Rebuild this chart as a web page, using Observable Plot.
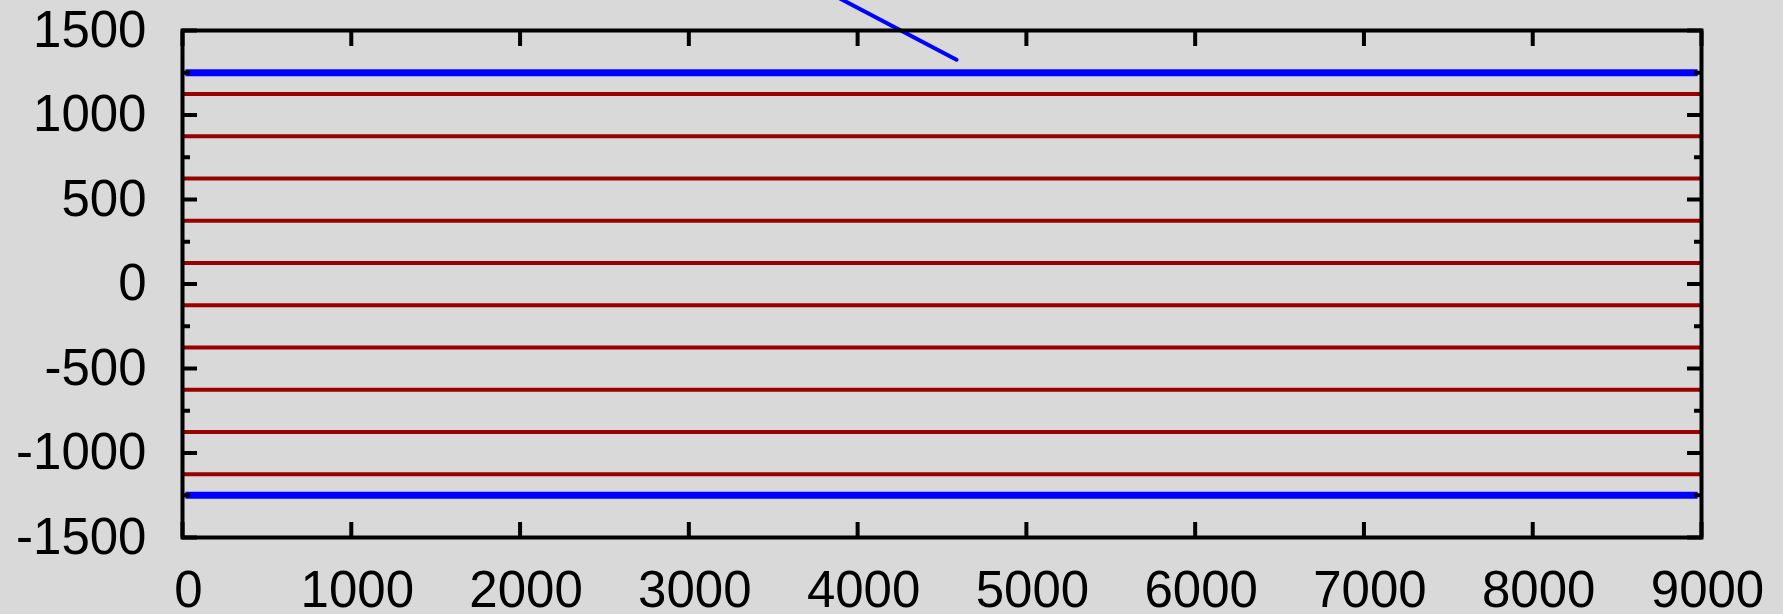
<!DOCTYPE html>
<html>
<head>
<meta charset="utf-8">
<script src="https://cdn.jsdelivr.net/npm/d3@7"></script>
<script src="https://cdn.jsdelivr.net/npm/@observablehq/plot@0.6"></script>
<style>
  html, body { margin: 0; padding: 0; background: #d9d9d9; overflow: hidden; }
  #chart svg { display: block; }
</style>
</head>
<body>
<div id="chart"></div>
<script>
const xTicks = [0, 1000, 2000, 3000, 4000, 5000, 6000, 7000, 8000, 9000];
const yTicks = [-1500, -1000, -500, 0, 500, 1000, 1500];
const yMinorTicks = [-1250, -750, -250, 250, 750, 1250];
const redLevels = [-1125, -875, -625, -375, -125, 125, 375, 625, 875, 1125];
const blueLevels = [-1250, 1250];
const blueStart = 20;
const blueEnd = 8980;
const diagX = [3850, 4586];
const diagY = [1713, 1327];

const diag = diagX.map((x, i) => ({x, y: diagY[i]}));
const font = "'Liberation Sans', Arial, sans-serif";

const chart = Plot.plot({
  width: 1783,
  height: 614,
  marginLeft: 182,
  marginRight: 82,
  marginTop: 30,
  marginBottom: 77,
  style: {background: "#d9d9d9", fontFamily: font, overflow: "visible"},
  x: {domain: [0, 9000], label: null},
  y: {domain: [-1500, 1500], label: null},
  marks: [
    Plot.ruleY(redLevels, {x1: 0, x2: 9000, stroke: "#990000", strokeWidth: 4}),
    Plot.ruleY(blueLevels, {x1: blueStart, x2: blueEnd, stroke: "#0000ff", strokeWidth: 7}),
    Plot.line(diag, {x: "x", y: "y", stroke: "#0000ff", strokeWidth: 4, clip: false}),
    Plot.axisX({anchor: "bottom", ticks: xTicks, tickSize: -15, strokeWidth: 4, text: null, label: null}),
    Plot.axisX({anchor: "top", ticks: xTicks, tickSize: -15, strokeWidth: 4, text: null, label: null}),
    Plot.axisY({anchor: "left", ticks: yTicks, tickSize: -15, strokeWidth: 4, text: null, label: null}),
    Plot.axisY({anchor: "right", ticks: yTicks, tickSize: -15, strokeWidth: 4, text: null, label: null}),
    Plot.axisY({anchor: "left", ticks: yMinorTicks, tickSize: -8, strokeWidth: 4, text: null, label: null}),
    Plot.axisY({anchor: "right", ticks: yMinorTicks, tickSize: -8, strokeWidth: 4, text: null, label: null}),
    Plot.axisX({anchor: "bottom", ticks: xTicks, tickSize: 0, tickPadding: 33, fontSize: 51, dx: 6, fill: "black", tickFormat: d => String(d), label: null}),
    Plot.axisY({anchor: "left", ticks: yTicks, tickSize: 0, tickPadding: 36, fontSize: 51, fill: "black", tickFormat: d => String(d), label: null}),
    Plot.frame({stroke: "black", strokeWidth: 4})
  ]
});
document.getElementById("chart").append(chart);
</script>
</body>
</html>
